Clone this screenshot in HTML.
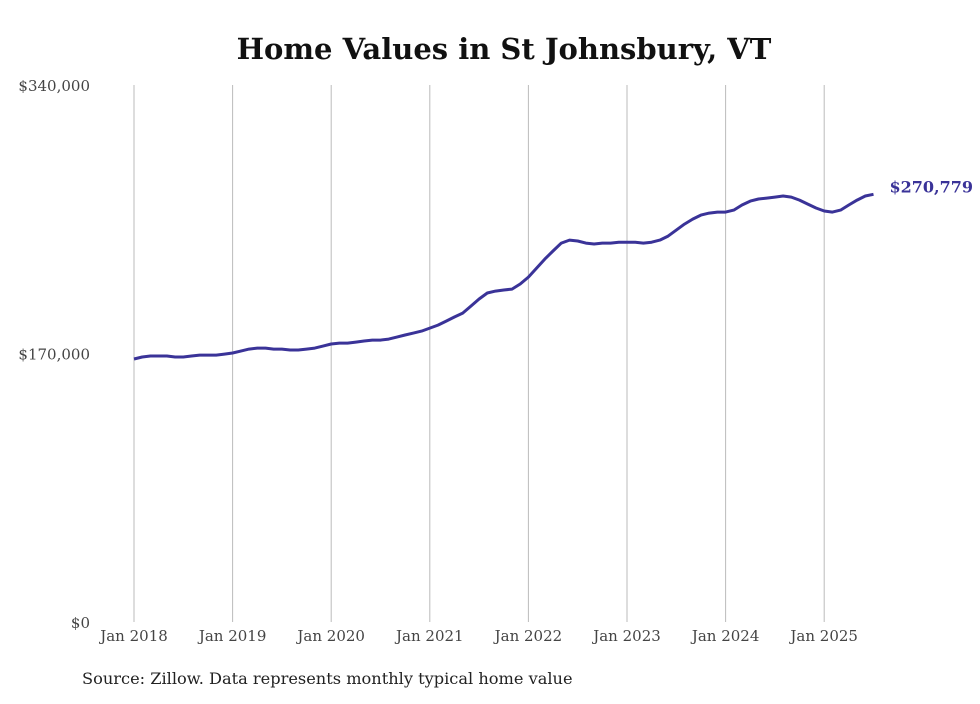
<!DOCTYPE html>
<html><head><meta charset="utf-8"><style>
body{margin:0;background:#fff;}
svg text{font-family:"DejaVu Serif","Liberation Serif",serif;}
</style></head><body>
<svg width="980" height="699" xmlns="http://www.w3.org/2000/svg">
<text x="504" y="59" text-anchor="middle" font-size="29" font-weight="bold" fill="#111">Home Values in St Johnsbury, VT</text>
<g id="grid"></g><g id="yl"></g><g id="xl"></g>
<path id="line" fill="none" stroke="#3a3398" stroke-width="3" stroke-linejoin="round"/>
<text id="endlabel" font-size="16" font-weight="bold" fill="#3a3398"></text>
<text x="82" y="684" font-size="16.2" fill="#222">Source: Zillow. Data represents monthly typical home value</text>
</svg>
<script>
const yTicks=[0,170000,340000];
const yTickLabels=["$0","$170,000","$340,000"];
const years=[2018,2019,2020,2021,2022,2023,2024,2025];
const values=[166.5,167.8,168.4,168.4,168.4,167.8,167.8,168.4,169.0,169.0,169.0,169.6,
170.3,171.5,172.8,173.4,173.4,172.8,172.8,172.2,172.2,172.8,173.4,174.7,
176.0,176.6,176.6,177.2,177.9,178.5,178.5,179.1,180.4,181.7,182.9,184.2,
186.1,188.0,190.5,193.1,195.6,200.0,204.5,208.3,209.5,210.2,210.8,214.0,
218.4,224.1,229.8,234.9,239.9,241.8,241.2,239.9,239.3,239.9,239.9,240.5,
240.5,240.5,239.9,240.5,241.8,244.3,248.1,251.9,255.1,257.6,258.9,259.5,
259.5,260.8,264.0,266.5,267.8,268.4,269.0,269.7,269.0,267.1,264.6,262.1,
260.2,259.5,260.8,264.0,267.1,269.7,270.779];
const lastLabel="$270,779";
const ns="http://www.w3.org/2000/svg";
const x0=134,yearW=98.6,yTop=85,yBot=622;
const xs=i=>x0+i*yearW/12;
const ys=v=>yBot-(v/340000)*(yBot-yTop);
function mk(t,a,p){const e=document.createElementNS(ns,t);for(const k in a)e.setAttribute(k,a[k]);p.appendChild(e);return e;}
const g=document.getElementById('grid'),yl=document.getElementById('yl'),xl=document.getElementById('xl');
years.forEach((yr,i)=>{const x=x0+i*yearW;
const l=mk('line',{x1:x,x2:x,y1:yTop,y2:yBot,stroke:'#bbb','stroke-width':1},g);


const t=mk('text',{x:x,y:641,'text-anchor':'middle','font-size':15,fill:'#444'},xl);t.textContent='Jan '+yr;

});
yTicks.forEach((v,i)=>{const t=mk('text',{x:90,y:ys(v)+6,'text-anchor':'end','font-size':15,fill:'#444'},yl);t.textContent=yTickLabels[i];

});
const pts=values.map((v,i)=>[xs(i),ys(v*1000)]);
document.getElementById('line').setAttribute('d','M'+pts.map(p=>p[0].toFixed(1)+','+p[1].toFixed(1)).join(' L'));
const lp=pts[pts.length-1];const el=document.getElementById('endlabel');
el.setAttribute('x',lp[0]+16);el.setAttribute('y',lp[1]-2);el.textContent=lastLabel;
</script>
</body></html>
